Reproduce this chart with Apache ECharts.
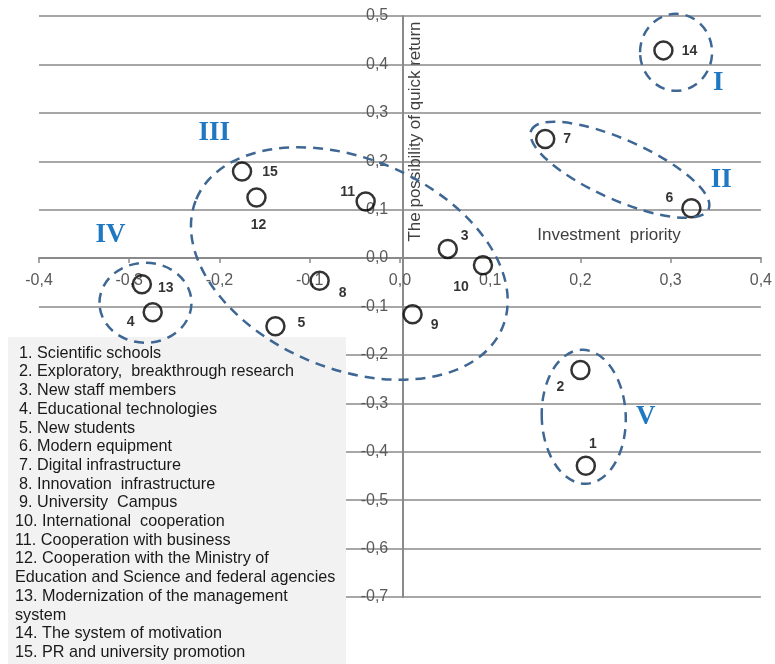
<!DOCTYPE html>
<html><head><meta charset="utf-8">
<script src="https://cdn.jsdelivr.net/npm/echarts@6/dist/echarts.min.js"></script>
<style>html,body{margin:0;padding:0;background:#fff}#c{width:775px;height:664px}</style>
</head><body><div id="c"></div>
<script>
// ---- data ----
const pointIds = ['1','2','3','4','5','6','7','8','9','10','11','12','13','14','15'];
const xValues = [0.206, 0.200, 0.053, -0.274, -0.138, 0.323, 0.161, -0.089, 0.014, 0.092, -0.038, -0.159, -0.286, 0.292, -0.175];
const yValues = [-0.429, -0.231, 0.019, -0.112, -0.141, 0.103, 0.246, -0.047, -0.116, -0.015, 0.117, 0.125, -0.054, 0.429, 0.179];
const itemNames = [
  'Scientific schools',
  'Exploratory,  breakthrough research',
  'New staff members',
  'Educational technologies',
  'New students',
  'Modern equipment',
  'Digital infrastructure',
  'Innovation  infrastructure',
  'University  Campus',
  'International  cooperation',
  'Cooperation with business',
  'Cooperation with the Ministry of\nEducation and Science and federal agencies',
  'Modernization of the management\nsystem',
  'The system of motivation',
  'PR and university promotion'
];
const groupNames = ['I','II','III','IV','V'];
const xAxisTitle = 'Investment  priority';
const yAxisTitle = 'The possibility of quick return';

// ---- styling / placement (not data) ----
const labelOffsets = [[7,-22],[-20,17],[17,-13],[-22,10],[26,-3],[-22,-10],[22,0],[23,12],[22,11],[-22,22],[-18,-9],[2,28],[24,4],[26,1],[28,1]];
// dashed group outlines: anchor in data units, radii (px), tilt (deg, clockwise)
const groupShapes = [
  {c:[0.306, 0.425], rx:36, ry:38.5, tilt:0},
  {c:[0.2438, 0.1824], rx:97, ry:30, tilt:24},
  {c:[-0.0561, -0.0112], rx:166, ry:105, tilt:22.8},
  {c:[-0.282, -0.0923], rx:46, ry:40, tilt:0},
  {c:[0.2037, -0.3278], rx:42, ry:67, tilt:-2}
];
const groupLabelAnchors = [[0.3527,0.3614],[0.3560,0.1617],[-0.2059,0.2582],[-0.3207,0.0481],[0.2723,-0.3284]];

const fmt = v => (Math.round(v*10)/10).toFixed(1).replace('.', ',');
const chart = echarts.init(document.getElementById('c'), null, {renderer:'canvas'});
const gray = '#8a8a8a';
const axisFont = {fontFamily:'Liberation Sans, Arial, sans-serif', fontSize:16, color:'#595959'};
const G = {left:39, right:13, top:16, bottom:67};

chart.setOption({
  animation:false,
  backgroundColor:'#fff',
  grid:{left:G.left, right:G.right, top:G.top, bottom:G.bottom, containLabel:false},
  xAxis:{
    type:'value', min:-0.4, max:0.4, interval:0.1, position:'bottom',
    axisLine:{show:true, onZero:false, lineStyle:{color:gray, width:2}},
    axisTick:{show:true, length:5, lineStyle:{color:gray, width:1.5}},
    axisLabel:Object.assign({margin:15, formatter:fmt}, axisFont),
    splitLine:{show:false}
  },
  yAxis:{
    type:'value', min:-0.7, max:0.5, interval:0.1, position:'left',
    axisLine:{show:true, onZero:false, lineStyle:{color:gray, width:2}},
    axisTick:{show:false},
    axisLabel:Object.assign({margin:15, formatter:fmt}, axisFont),
    splitLine:{show:true, lineStyle:{color:gray, width:1.5}}
  },
  series:[{
    type:'scatter',
    symbol:'circle',
    symbolSize:18,
    z:10,
    itemStyle:{color:'rgba(255,255,255,0)', borderColor:'#000', borderWidth:2.5},
    label:{show:true, position:'inside', fontFamily:'Liberation Sans, Arial, sans-serif', fontWeight:'bold', fontSize:14, color:'#000', formatter:p=>p.name},
    data: pointIds.map((id,i)=>({name:id, value:[xValues[i], yValues[i]], label:{offset:labelOffsets[i]}}))
  }]
});

function px(pt){ return chart.convertToPixel({gridIndex:0}, pt); }

// move the axes onto the zero lines (labels included)
const zero = px([0,0]);
const H = 664;
chart.setOption({
  xAxis:{offset: -((H - G.bottom) - zero[1])},
  yAxis:{offset: -(zero[0] - G.left)}
});

const graphics = [];
// legend box
const boxX = 8, boxY = 337, boxW = 338, boxH = 327;
graphics.push({type:'rect', z:50, shape:{x:boxX, y:boxY, width:boxW, height:boxH}, style:{fill:'#f2f2f2'}});
let line = 0;
const lineH = 18.7, firstY = 353.3;
itemNames.forEach((nm, i) => {
  const parts = nm.split('\n');
  parts.forEach((p, j) => {
    const txt = j === 0 ? (pointIds[i] + '. ' + p) : p;
    const x = (j === 0 && i < 9) ? 19 : 15;
    graphics.push({type:'text', z:51, x:x, y:firstY + line*lineH,
      style:{text:txt, fill:'#1a1a1a', font:'16.2px "Liberation Sans", Arial, sans-serif', textVerticalAlign:'middle', textAlign:'left'}});
    line++;
  });
});
// dashed outlines
groupShapes.forEach(g => {
  const c = px(g.c);
  graphics.push({type:'ellipse', z:60, x:c[0], y:c[1], rotation:-g.tilt*Math.PI/180,
    shape:{cx:0, cy:0, rx:g.rx, ry:g.ry},
    style:{fill:null, stroke:'#3f6794', lineWidth:2.5, lineDash:[10,7]}});
});
// group labels
groupNames.forEach((n, i) => {
  const c = px(groupLabelAnchors[i]);
  graphics.push({type:'text', z:60, x:c[0], y:c[1],
    style:{text:n, fill:'#1f78c1', font:'bold 27px "Liberation Serif", "Times New Roman", serif', textAlign:'center', textVerticalAlign:'middle'}});
});
// axis titles
graphics.push({type:'text', z:40, x:609, y:235,
  style:{text:xAxisTitle, fill:'#404040', font:'17px "Liberation Sans", Arial, sans-serif', textAlign:'center', textVerticalAlign:'middle'}});
graphics.push({type:'text', z:40, x:415, y:131.5, rotation:Math.PI/2,
  style:{text:yAxisTitle, fill:'#404040', font:'17px "Liberation Sans", Arial, sans-serif', textAlign:'center', textVerticalAlign:'middle'}});

chart.setOption({graphic:{elements:graphics}});
</script>
</body></html>
